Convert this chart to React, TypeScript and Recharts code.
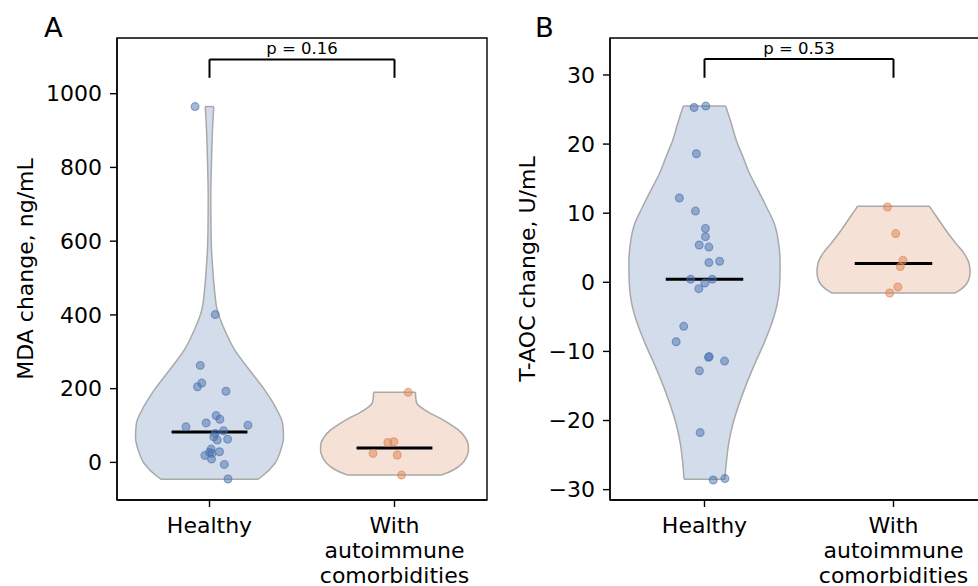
import React from 'react';
import {
  ComposedChart,
  Area,
  Scatter,
  XAxis,
  YAxis,
  ReferenceLine,
  ReferenceArea,
} from 'recharts';

const FONT = '"DejaVu Sans", sans-serif';

const categories = ['Healthy', 'With\nautoimmune\ncomorbidities'];

// Panel A: MDA change, ng/mL
const mdaTicks = [0, 200, 400, 600, 800, 1000];
const mdaHealthy = [965, 401, 263, 215, 205, 193, 127, 117, 107, 96.5, 101, 78.6, 85.7, 69.4, 60.4, 63, 36, 27, 24.4, 28.8, 19, 9, -5.4, -45];
const mdaHealthyJitter = [-0.078, 0.031, -0.05, -0.042, -0.065, 0.089, 0.036, 0.056, -0.018, -0.127, 0.208, 0.031, 0.076, 0.023, 0.042, 0.098, 0.009, 0, 0.013, 0.054, -0.025, 0.011, 0.08, 0.1];
const mdaAuto = [190, 54, 56, 24.4, 20, -34.4];
const mdaAutoJitter = [0.074, -0.036, -0.004, -0.116, 0.015, 0.038];

// violin outlines: level and half width (category units)
const mdaHealthyLevels = [-46, -39, -3, 33, 69, 106, 142, 196, 250, 305, 359, 413, 467, 521, 576, 640, 720, 820, 900, 965];
const mdaHealthyWidths = [0.262, 0.281, 0.353, 0.385, 0.4, 0.395, 0.365, 0.299, 0.217, 0.136, 0.082, 0.042, 0.027, 0.018, 0.011, 0.008, 0.007, 0.011, 0.016, 0.023];
const mdaAutoLevels = [-34, -20, -3, 15, 33, 50, 69, 88, 106, 120, 133, 145, 160, 175, 190];
const mdaAutoWidths = [0.257, 0.32, 0.366, 0.39, 0.4, 0.398, 0.38, 0.345, 0.293, 0.245, 0.194, 0.155, 0.121, 0.115, 0.113];

// Panel B: T-AOC change, U/mL
const taocTicks = [-30, -20, -10, 0, 10, 20, 30];
const taocHealthy = [25.3, 25.5, 18.6, 12.2, 10.3, 7.8, 6.6, 5.4, 5.1, 2.85, 3.04, 0.45, 0.45, -0.1, -0.92, -6.37, -8.6, -10.85, -10.75, -11.4, -12.8, -21.75, -28.6, -28.4];
const taocHealthyJitter = [-0.055, 0.007, -0.043, -0.133, -0.048, 0.005, 0.005, -0.028, 0.023, 0.023, 0.08, -0.073, 0.041, 0.002, -0.03, -0.11, -0.15, 0.021, 0.025, 0.106, -0.027, -0.023, 0.046, 0.108];
const taocAuto = [10.9, 7.05, 3.18, 2.27, -0.68, -1.55];
const taocAutoJitter = [-0.032, 0.012, 0.05, 0.036, 0.023, -0.02];

const taocHealthyLevels = [-28.5, -26.2, -23.3, -20.4, -17.6, -14.7, -11.8, -8.87, -6.0, -3.1, -0.2, 2.7, 6.08, 8.5, 10.9, 13.3, 15.7, 18.13, 20.55, 22.97, 25.5];
const taocHealthyWidths = [0.108, 0.115, 0.128, 0.151, 0.183, 0.222, 0.266, 0.314, 0.355, 0.385, 0.398, 0.4, 0.39, 0.369, 0.328, 0.284, 0.239, 0.204, 0.168, 0.142, 0.112];
const taocAutoLevels = [-1.55, -0.92, 0.29, 1.5, 2.7, 4.15, 5.6, 7.5, 9.45, 11.0];
const taocAutoWidths = [0.326, 0.362, 0.397, 0.405, 0.4, 0.374, 0.331, 0.278, 0.229, 0.19];

const BLUE = '#4c72b0';
const ORANGE = '#dd8452';
const BLUE_FILL = '#d3dcea';
const ORANGE_FILL = '#f5e1d5';
const EDGE = '#a9a9a9';

const violinData = (center: number, levels: number[], widths: number[]) =>
  levels.map((v, i) => ({ v, range: [center - widths[i], center + widths[i]] }));

const stripData = (center: number, values: number[], jitter: number[]) =>
  values.map((v, i) => ({ x: center + jitter[i], v }));

const median = (values: number[]) => {
  const s = [...values].sort((a, b) => a - b);
  const m = s.length >> 1;
  return s.length % 2 ? s[m] : (s[m - 1] + s[m]) / 2;
};

const dot = (color: string) => (props: any) => (
  <circle
    cx={props.cx}
    cy={props.cy}
    r={3.9}
    fill={color}
    fillOpacity={0.5}
    stroke={color}
    strokeOpacity={0.6}
    strokeWidth={1.2}
  />
);

function CategoryTick(props: any) {
  const { x, y, payload } = props;
  const lines = categories[payload.value].split('\n');
  return (
    <text x={x} y={y} textAnchor="middle" fontSize={22} fontFamily={FONT} fill="#000">
      {lines.map((l, i) => (
        <tspan key={i} x={x} dy={i === 0 ? 21.5 : 25.3}>
          {l}
        </tspan>
      ))}
    </text>
  );
}

function group(
  key: string,
  center: number,
  values: number[],
  jitter: number[],
  levels: number[],
  widths: number[],
  color: string,
  fill: string
) {
  const last = levels.length - 1;
  const med = median(values);
  return [
    <Area
      key={key + '-violin'}
      data={violinData(center, levels, widths)}
      dataKey="range"
      type="monotone"
      fill={fill}
      fillOpacity={1}
      stroke={EDGE}
      strokeWidth={1.5}
      dot={false}
      activeDot={false}
      isAnimationActive={false}
    />,
    <ReferenceLine
      key={key + '-cap-bottom'}
      segment={[{ x: center - widths[0], y: levels[0] }, { x: center + widths[0], y: levels[0] }]}
      stroke={EDGE}
      strokeWidth={1.5}
    />,
    <ReferenceLine
      key={key + '-cap-top'}
      segment={[{ x: center - widths[last], y: levels[last] }, { x: center + widths[last], y: levels[last] }]}
      stroke={EDGE}
      strokeWidth={1.5}
    />,
    <Scatter
      key={key + '-points'}
      data={stripData(center, values, jitter)}
      fill={color}
      shape={dot(color)}
      isAnimationActive={false}
    />,
    <ReferenceLine
      key={key + '-median'}
      segment={[{ x: center - 0.205, y: med }, { x: center + 0.205, y: med }]}
      stroke="#000"
      strokeWidth={3}
    />,
  ];
}

interface PanelProps {
  width: number;
  axisWidth: number;
  labelOffset: number;
  domain: [number, number];
  ticks: number[];
  yLabel: string;
  pText: string;
  bracketLow: number;
  bracketHigh: number;
  healthy: number[];
  healthyJitter: number[];
  healthyLevels: number[];
  healthyWidths: number[];
  auto: number[];
  autoJitter: number[];
  autoLevels: number[];
  autoWidths: number[];
  marginRight: number;
}

function Panel(p: PanelProps) {
  const axisStyle = { stroke: '#000', strokeWidth: 1.4 };
  return (
    <ComposedChart
      width={p.width}
      height={586}
      layout="vertical"
      margin={{ top: 38, right: p.marginRight, bottom: 0, left: 0 }}
    >
      <XAxis
        type="number"
        dataKey="x"
        domain={[-0.5, 1.5]}
        ticks={[0, 1]}
        allowDataOverflow
        height={86}
        tickSize={7}
        tickMargin={4}
        axisLine={axisStyle}
        tickLine={axisStyle}
        tick={<CategoryTick />}
      />
      <YAxis
        type="number"
        dataKey="v"
        domain={p.domain}
        ticks={p.ticks}
        reversed
        allowDataOverflow
        width={p.axisWidth}
        tickSize={7}
        tickMargin={8}
        axisLine={axisStyle}
        tickLine={axisStyle}
        tick={{ fontSize: 22, fill: '#000', fontFamily: FONT }}
        tickFormatter={(v: number) => (v < 0 ? '\u2212' + Math.abs(v) : String(v))}
        label={{
          value: p.yLabel,
          angle: -90,
          position: 'insideLeft',
          offset: p.labelOffset,
          style: { textAnchor: 'middle', fontSize: 22, fill: '#000', fontFamily: FONT },
        }}
      />
      {group('h', 0, p.healthy, p.healthyJitter, p.healthyLevels, p.healthyWidths, BLUE, BLUE_FILL)}
      {group('a', 1, p.auto, p.autoJitter, p.autoLevels, p.autoWidths, ORANGE, ORANGE_FILL)}
      <ReferenceArea
        x1={-0.5}
        x2={1.5}
        y1={p.domain[0]}
        y2={p.domain[1]}
        fill="none"
        fillOpacity={0}
        stroke="#000"
        strokeWidth={1.4}
        ifOverflow="visible"
      />
      <ReferenceLine
        segment={[{ x: 0, y: p.bracketLow }, { x: 0, y: p.bracketHigh }]}
        stroke="#000"
        strokeWidth={2}
      />
      <ReferenceLine
        segment={[{ x: 1, y: p.bracketLow }, { x: 1, y: p.bracketHigh }]}
        stroke="#000"
        strokeWidth={2}
      />
      <ReferenceLine
        segment={[{ x: 0, y: p.bracketHigh }, { x: 1, y: p.bracketHigh }]}
        stroke="#000"
        strokeWidth={2}
        label={{ value: p.pText, position: 'top', offset: 5, fontSize: 16.5, fill: '#000', fontFamily: FONT }}
      />
    </ComposedChart>
  );
}

const letterStyle: React.CSSProperties = {
  position: 'absolute',
  top: 13.8,
  fontSize: 27.4,
  lineHeight: '27.4px',
  fontFamily: FONT,
  color: '#000',
};

export default function App() {
  return (
    <div
      style={{
        position: 'absolute',
        left: 0,
        top: 0,
        width: 978,
        height: 586,
        overflow: 'hidden',
        background: '#fff',
        fontFamily: FONT,
      }}
    >
      <div style={{ ...letterStyle, left: 44 }}>A</div>
      <div style={{ ...letterStyle, left: 535 }}>B</div>
      <div style={{ position: 'absolute', left: 0, top: 0 }}>
        <Panel
          width={490}
          axisWidth={117}
          labelOffset={25}
          marginRight={3}
          domain={[-102, 1151]}
          ticks={mdaTicks}
          yLabel="MDA change, ng/mL"
          pText="p = 0.16"
          bracketLow={1043}
          bracketHigh={1093}
          healthy={mdaHealthy}
          healthyJitter={mdaHealthyJitter}
          healthyLevels={mdaHealthyLevels}
          healthyWidths={mdaHealthyWidths}
          auto={mdaAuto}
          autoJitter={mdaAutoJitter}
          autoLevels={mdaAutoLevels}
          autoWidths={mdaAutoWidths}
        />
      </div>
      <div style={{ position: 'absolute', left: 490, top: 0 }}>
        <Panel
          width={500}
          axisWidth={120}
          labelOffset={37}
          marginRight={2}
          domain={[-31.5, 35.35]}
          ticks={taocTicks}
          yLabel="T-AOC change, U/mL"
          pText="p = 0.53"
          bracketLow={29.6}
          bracketHigh={32.3}
          healthy={taocHealthy}
          healthyJitter={taocHealthyJitter}
          healthyLevels={taocHealthyLevels}
          healthyWidths={taocHealthyWidths}
          auto={taocAuto}
          autoJitter={taocAutoJitter}
          autoLevels={taocAutoLevels}
          autoWidths={taocAutoWidths}
        />
      </div>
    </div>
  );
}
